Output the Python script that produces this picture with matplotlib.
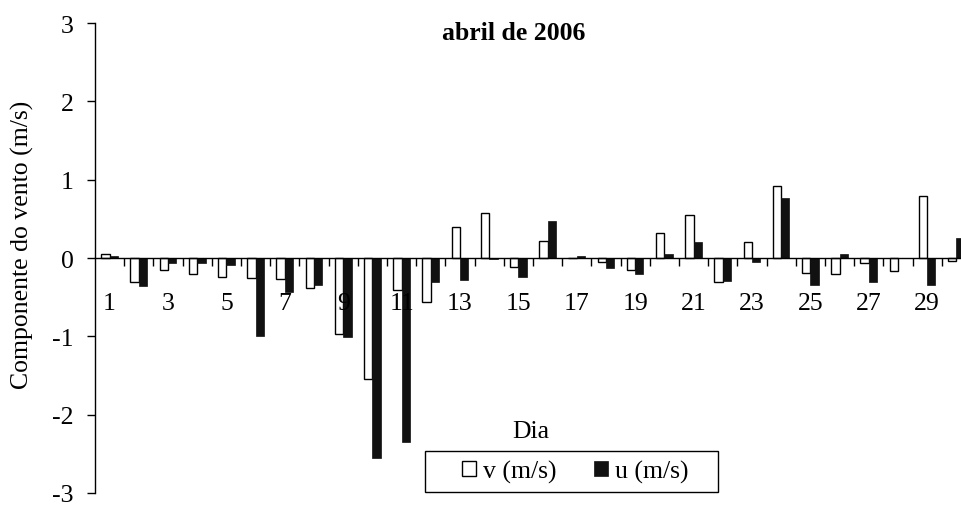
import matplotlib.pyplot as plt
from matplotlib.patches import Rectangle
import numpy as np

plt.rcParams["font.family"] = ["Liberation Serif", "DejaVu Serif"]
plt.rcParams["axes.unicode_minus"] = False

dias = np.arange(1, 31)
v = [0.05, -0.31, -0.15, -0.20, -0.24, -0.25, -0.27, -0.38, -0.97, -1.55,
     -0.41, -0.56, 0.40, 0.57, -0.11, 0.22, 0.00, -0.05, -0.15, 0.32,
     0.55, -0.31, 0.20, 0.92, -0.19, -0.20, -0.07, -0.16, 0.79, -0.04]
u = [0.03, -0.36, -0.07, -0.07, -0.09, -1.00, -0.43, -0.34, -1.01, -2.55,
     -2.35, -0.31, -0.28, -0.01, -0.24, 0.47, 0.03, -0.13, -0.20, 0.05,
     0.21, -0.29, -0.05, 0.77, -0.34, 0.05, -0.30, 0.00, -0.34, 0.25]
rotulos_x = [str(d) for d in range(1, 30, 2)]
fs = 18.5
W, H = 961, 506

fig = plt.figure(figsize=(W / 100, H / 100), dpi=100)
ax = fig.add_axes([95 / W, 12 / H, 866 / W, 470 / H])

w = 1 / 3.5  # gap width 150%
ax.bar(dias - w / 2, v, width=w, color="white", edgecolor="black", linewidth=1, label="v (m/s)")
ax.bar(dias + w / 2, u, width=w, color="#111111", edgecolor="#111111", linewidth=0.5, label="u (m/s)")

ax.set_xlim(0.5, 30.16)
ax.set_ylim(-3, 3)
ax.set_yticks(range(-3, 4))
ax.tick_params(axis="y", direction="out", length=5.8, width=1, pad=9.4, labelsize=fs)

ax.set_xticks(range(1, 30, 2))
ax.set_xticklabels(rotulos_x)
ax.set_xticks(np.arange(1.5, 30.5, 1), minor=True)
ax.tick_params(axis="x", which="major", length=0, pad=24.5, labelsize=fs)
ax.tick_params(axis="x", which="minor", direction="out", length=5.8, width=1)

ax.spines["bottom"].set_position(("data", 0))
ax.spines["top"].set_visible(False)
ax.spines["right"].set_visible(False)
for s in ["left", "bottom"]:
    ax.spines[s].set_linewidth(1)

fig.text(22 / W, 1 - 245 / H, "Componente do vento (m/s)", rotation=90,
         ha="center", va="center", fontsize=fs)
fig.text(514 / W, 1 - 33 / H, "abril de 2006", ha="center", va="center",
         fontsize=fs, fontweight="bold")
fig.text(531 / W, 1 - 432 / H, "Dia", ha="center", va="center", fontsize=fs)

# legenda sem moldura + caixa desenhada à parte
ax.legend(loc="center", bbox_to_anchor=(575 / W, 1 - 472.5 / H),
          bbox_transform=fig.transFigure, ncol=2, fontsize=fs, frameon=False,
          handlelength=0.55, handleheight=0.55, handletextpad=0.27,
          columnspacing=1.45, borderpad=0.2)
fig.patches.append(Rectangle((425 / W, 1 - 493 / H), 293 / W, 41 / H,
                             transform=fig.transFigure, fill=False,
                             edgecolor="black", linewidth=1))

fig.savefig("out.png", dpi=100)
